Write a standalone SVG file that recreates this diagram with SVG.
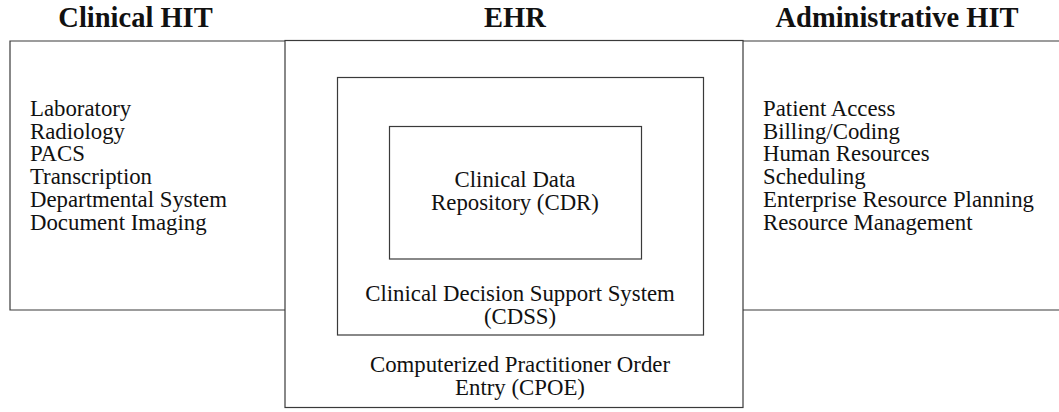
<svg xmlns="http://www.w3.org/2000/svg" width="1059" height="412" viewBox="0 0 1059 412">
<style>
.box{fill:none;stroke:#3a3a3a;stroke-width:1.2}
.t{font-family:"Liberation Serif","Times New Roman",serif;font-size:22.8px;fill:#111}
.c{text-anchor:middle}
.h{font-family:"Liberation Serif","Times New Roman",serif;font-size:28.5px;font-weight:bold;fill:#111;text-anchor:middle}
</style>
<rect width="1059" height="412" fill="#fff"/>
<g id="clinical-hit">
<path class="box" d="M285 41 H10 V310 H285"/>
<text class="h" x="135.5" y="27">Clinical HIT</text>
<text class="t" x="30" y="116">Laboratory</text>
<text class="t" x="30" y="138.7">Radiology</text>
<text class="t" x="30" y="161.4">PACS</text>
<text class="t" x="30" y="184.1">Transcription</text>
<text class="t" x="30" y="206.8">Departmental System</text>
<text class="t" x="30" y="229.5">Document Imaging</text>
</g>
<g id="administrative-hit">
<path class="box" d="M1059 41 H743 M743 310 H1059"/>
<text class="h" x="897" y="27">Administrative HIT</text>
<text class="t" x="763" y="116">Patient Access</text>
<text class="t" x="763" y="138.7">Billing/Coding</text>
<text class="t" x="763" y="161.4">Human Resources</text>
<text class="t" x="763" y="184.1">Scheduling</text>
<text class="t" x="763" y="206.8">Enterprise Resource Planning</text>
<text class="t" x="763" y="229.5">Resource Management</text>
</g>
<g id="ehr">
<rect class="box" x="285" y="40.5" width="458" height="367"/>
<text class="h" x="515" y="27">EHR</text>
<text class="t c" x="520" y="372">Computerized Practitioner Order</text>
<text class="t c" x="520" y="395">Entry (CPOE)</text>
</g>
<g id="cdss">
<rect class="box" x="337.5" y="77.5" width="366" height="257.5"/>
<text class="t c" x="520" y="301">Clinical Decision Support System</text>
<text class="t c" x="520" y="324">(CDSS)</text>
</g>
<g id="cdr">
<rect class="box" x="389.5" y="126.5" width="252" height="132.5"/>
<text class="t c" x="515" y="187">Clinical Data</text>
<text class="t c" x="515" y="210">Repository (CDR)</text>
</g>
<g id="connectors"></g>
</svg>
